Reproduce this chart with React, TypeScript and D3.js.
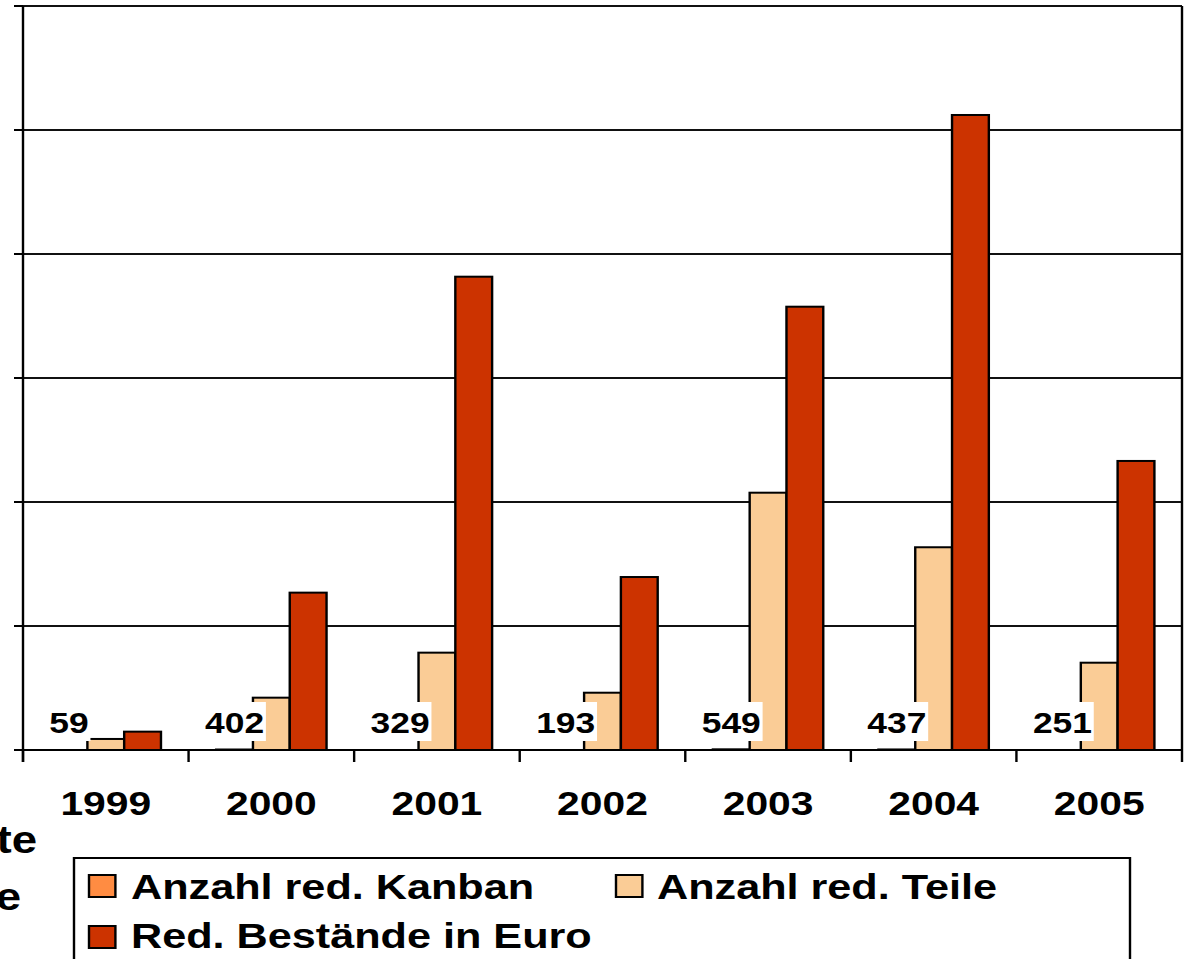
import React from "react";
import * as d3 from "d3";

const years = ["1999", "2000", "2001", "2002", "2003", "2004", "2005"];
const seriesKeys = ["kanban", "teile", "euro"];
const seriesNames = ["Anzahl red. Kanban", "Anzahl red. Teile", "Red. Bestände in Euro"];
const seriesColors = ["#FF8C42", "#FACC96", "#CC3300"];
const kanban = [59, 402, 329, 193, 549, 437, 251];
const teile = [8900, 42200, 78500, 46200, 207500, 163500, 70400];
const euro = [14800, 126900, 381700, 139500, 357500, 512100, 233100];
const yMax = 600000;
const yTickCount = 6;

const FONT = "'Liberation Sans', Arial, Helvetica, sans-serif";

export default function App() {
  const W = 1189;
  const H = 959;
  const sx = 1.2; // horizontal stretch of the original picture
  const left = 23, right = 1182, top = 6, bottom = 750;

  const x0 = d3.scaleBand<string>().domain(years).range([left / sx, right / sx]).paddingInner(0).paddingOuter(0);
  const x1 = d3.scaleBand<string>().domain(seriesKeys).range([0, x0.bandwidth()]).paddingInner(0).paddingOuter(0.75);
  const y = d3.scaleLinear().domain([0, yMax]).range([bottom, top]);
  const ticks = y.ticks(yTickCount);

  const data = [kanban, teile, euro];
  const labelFs = 29.5;

  return (
    <svg
      width={W}
      height={H}
      style={{ position: "absolute", left: 0, top: 0, background: "#fff" }}
      fontFamily={FONT}
    >
      <rect x={0} y={0} width={W} height={H} fill="#fff" />
      <g transform={`scale(${sx},1)`}>
        {/* gridlines */}
        {ticks.filter((t) => t > 0).map((t) => (
          <line key={"g" + t} x1={14 / sx} x2={right / sx} y1={y(t)} y2={y(t)} stroke="#111" strokeWidth={1.8} />
        ))}
        {/* bars */}
        {years.map((yr, i) => (
          <g key={yr} transform={`translate(${x0(yr)},0)`}>
            {seriesKeys.map((k, si) => {
              const v = data[si][i];
              const h = bottom - y(v);
              const showStroke = h >= 0.45;
              return (
                <rect
                  key={k}
                  x={x1(k)}
                  y={y(v)}
                  width={x1.bandwidth()}
                  height={h}
                  fill={seriesColors[si]}
                  stroke={showStroke ? "#000" : "none"}
                  strokeWidth={2}
                />
              );
            })}
          </g>
        ))}
        {/* data labels for Kanban */}
        {years.map((yr, i) => {
          const cx = (x0(yr) as number) + (x1("kanban") as number) + x1.bandwidth() / 2;
          const txt = String(kanban[i]);
          const w = txt.length * 0.556 * labelFs + 3;
          return (
            <g key={"l" + yr}>
              <rect x={cx - w / 2} y={702} width={w} height={39} fill="#fff" />
              <text x={cx} y={733} textAnchor="middle" fontSize={labelFs} fontWeight="bold" fill="#000">
                {txt}
              </text>
            </g>
          );
        })}
        {/* axes */}
        {ticks.map((t) => (
          <line key={"yt" + t} x1={14 / sx} x2={left / sx} y1={y(t)} y2={y(t)} stroke="#000" strokeWidth={2} />
        ))}
        <line x1={left / sx} x2={right / sx} y1={bottom} y2={bottom} stroke="#000" strokeWidth={2} />
        <line x1={14 / sx} x2={left / sx} y1={bottom} y2={bottom} stroke="#000" strokeWidth={2} />
        <line x1={left / sx} x2={left / sx} y1={top} y2={762} stroke="#000" strokeWidth={2} />
        <line x1={right / sx} x2={right / sx} y1={top} y2={762} stroke="#000" strokeWidth={2} />
        {years.map((yr) => (
          <line key={"xt" + yr} x1={x0(yr)} x2={x0(yr)} y1={bottom} y2={762} stroke="#000" strokeWidth={2} />
        ))}
        {/* year labels */}
        {years.map((yr) => (
          <text
            key={"yl" + yr}
            x={(x0(yr) as number) + x0.bandwidth() / 2}
            y={815}
            textAnchor="middle"
            fontSize={34}
            fontWeight="bold"
            fill="#000"
          >
            {yr}
          </text>
        ))}
        {/* clipped fragments of text at left */}
        <text x={37 / sx} y={853} textAnchor="end" fontSize={38} fontWeight="bold" fill="#000">te</text>
        <text x={21 / sx} y={910} textAnchor="end" fontSize={38} fontWeight="bold" fill="#000">e</text>
        {/* legend */}
        <rect x={74 / sx} y={858} width={(1130 - 74) / sx} height={200} fill="#fff" stroke="#000" strokeWidth={2} />
        {[
          { si: 0, sxp: 89, tx: 131, yy: 875, base: 899 },
          { si: 1, sxp: 616, tx: 657, yy: 875, base: 899 },
          { si: 2, sxp: 89, tx: 131, yy: 926, base: 948 },
        ].map((it) => (
          <g key={"lg" + it.si}>
            <rect x={it.sxp / sx} y={it.yy} width={22} height={22} fill={seriesColors[it.si]} stroke="#000" strokeWidth={2} />
            <text x={it.tx / sx} y={it.base} fontSize={36} fontWeight="bold" fill="#000">
              {seriesNames[it.si]}
            </text>
          </g>
        ))}
      </g>
    </svg>
  );
}
